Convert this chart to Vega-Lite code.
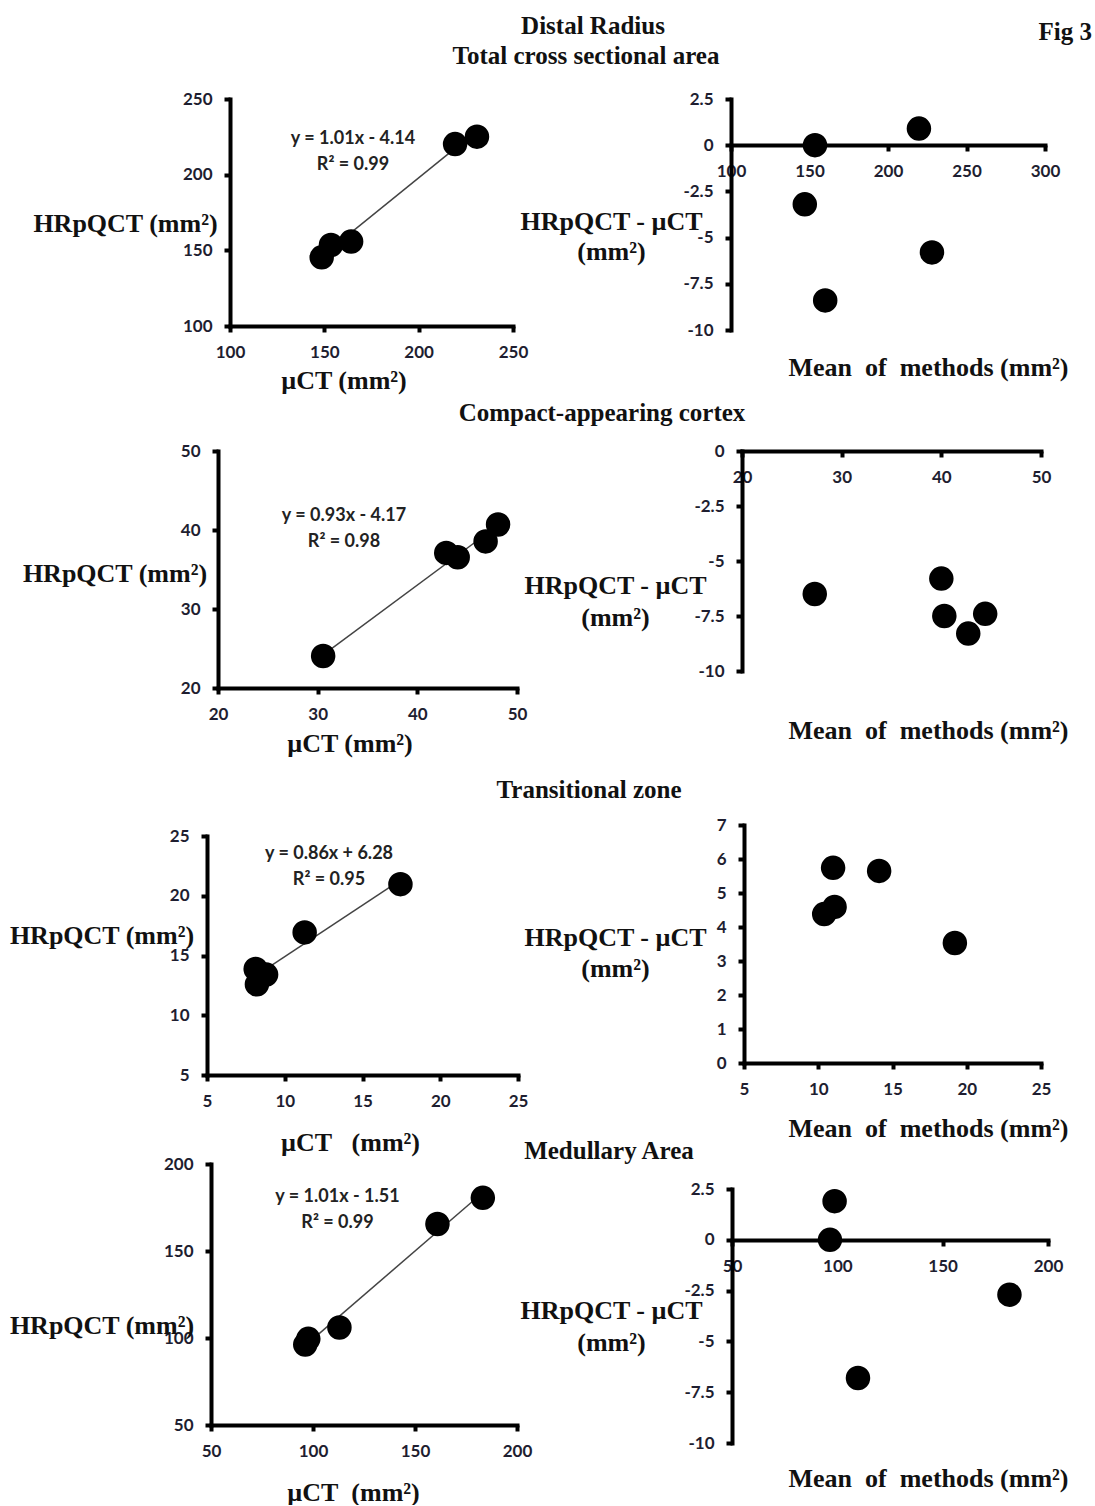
{
"$schema": "https://vega.github.io/schema/vega-lite/v6.json",
"padding": 0,
"autosize": {"type": "pad"},
"background": "white",
"columns": 4,
"spacing": 0,
"align": "each",
"bounds": "flush",
"datasets": {
 "tcsa_points": [{"uCT":148.6,"HRpQCT":145.4},{"uCT":153.5,"HRpQCT":153.5},{"uCT":164.2,"HRpQCT":155.8},{"uCT":219.3,"HRpQCT":220.2},{"uCT":230.9,"HRpQCT":225.1}],
 "tcsa_fit": [{"uCT":148.6,"HRpQCT":146.0},{"uCT":230.9,"HRpQCT":229.1}],
 "tcsa_ba": [{"mean":153.5,"diff":0},{"mean":219.7,"diff":0.9},{"mean":147.0,"diff":-3.2},{"mean":228.0,"diff":-5.8},{"mean":160.0,"diff":-8.4}],
 "cac_points": [{"uCT":30.55,"HRpQCT":24.05},{"uCT":42.9,"HRpQCT":37.1},{"uCT":44.05,"HRpQCT":36.55},{"uCT":46.85,"HRpQCT":38.55},{"uCT":48.1,"HRpQCT":40.7}],
 "cac_fit": [{"uCT":30.55,"HRpQCT":24.2},{"uCT":48.1,"HRpQCT":40.6}],
 "cac_ba": [{"mean":27.3,"diff":-6.5},{"mean":40.0,"diff":-5.8},{"mean":40.3,"diff":-7.5},{"mean":42.7,"diff":-8.3},{"mean":44.4,"diff":-7.4}],
 "tz_points": [{"uCT":8.13,"HRpQCT":13.87},{"uCT":8.21,"HRpQCT":12.59},{"uCT":8.8,"HRpQCT":13.4},{"uCT":11.28,"HRpQCT":16.93},{"uCT":17.44,"HRpQCT":20.97}],
 "tz_fit": [{"uCT":8.13,"HRpQCT":13.3},{"uCT":17.44,"HRpQCT":21.3}],
 "tz_ba": [{"mean":11.0,"diff":5.74},{"mean":10.4,"diff":4.38},{"mean":11.1,"diff":4.59},{"mean":14.1,"diff":5.65},{"mean":19.2,"diff":3.53}],
 "ma_points": [{"uCT":96.2,"HRpQCT":96.2},{"uCT":97.7,"HRpQCT":99.5},{"uCT":112.95,"HRpQCT":106.05},{"uCT":161.0,"HRpQCT":165.5},{"uCT":183.25,"HRpQCT":180.55}],
 "ma_fit": [{"uCT":96.2,"HRpQCT":95.6},{"uCT":183.25,"HRpQCT":183.6}],
 "ma_ba": [{"mean":98.7,"diff":1.9},{"mean":96.5,"diff":0},{"mean":109.8,"diff":-6.8},{"mean":181.7,"diff":-2.7}]
},
"concat": [
 {"width":207,"height":99,"data":{"values":[]},"mark":{"type":"point","opacity":0}},
 {"width":311,"height":14,"data":{"values":[]},"mark":{"type":"point","opacity":0},"title":{"text":"Distal Radius","orient":"bottom","offset":0,"dx":230.5}},
 {"width":213,"height":44,"data":{"values":[]},"mark":{"type":"point","opacity":0},"title":{"text":"Total cross sectional area","orient":"bottom","offset":0,"dx":-38.5}},
 {"width":361,"height":20,"data":{"values":[]},"mark":{"type":"point","opacity":0},"title":{"text":"Fig 3","orient":"bottom","anchor":"end","offset":0}},

 {"width":1,"height":1,"data":{"values":[]},"mark":{"type":"point","opacity":0}},
 {"width":306,"height":227,
  "title":{"text":["y = 1.01x - 4.14","R² = 0.99"],"orient":"top","anchor":"start","align":"center","dx":146,"offset":-84,"font":"Lato","fontSize":18,"fontWeight":"bold","color":"#222","lineHeight":26},
  "encoding":{
   "x":{"field":"uCT","type":"quantitative","scale":{"domain":[100,250],"range":[23,306],"nice":false,"zero":false},"axis":{"values":[100,150,200,250],"title":"µCT (mm²)","titleX":136.5,"titleY":62,"titleAngle":0,"titleAlign":"center","titleBaseline":"alphabetic","labelExpr":"'' + datum.value"}},
   "y":{"field":"HRpQCT","type":"quantitative","scale":{"domain":[100,250],"range":[227,0],"nice":false,"zero":false},"axis":{"values":[100,150,200,250],"offset":-23,"title":"HRpQCT (mm²)","titleX":-105,"titleY":132,"titleAngle":0,"titleAlign":"center","titleBaseline":"alphabetic","labelExpr":"'' + datum.value"}}
  },
  "layer":[
   {"data":{"name":"tcsa_fit"},"mark":{"type":"line","color":"#444","strokeWidth":1.5}},
   {"data":{"name":"tcsa_points"},"mark":{"type":"circle","size":600,"color":"#000","opacity":1}}
  ]},
 {"width":1,"height":1,"data":{"values":[]},"mark":{"type":"point","opacity":0}},
 {"width":314,"height":231,"data":{"name":"tcsa_ba"},"mark":{"type":"circle","size":600,"color":"#000","opacity":1},
  "encoding":{
   "x":{"field":"mean","type":"quantitative","scale":{"domain":[100,300],"range":[0,314],"nice":false,"zero":false},"axis":{"values":[100,150,200,250,300],"offset":-185,"title":"Mean\u00a0\u00a0of\u00a0\u00a0methods (mm²)","titleX":197,"titleY":230,"titleAngle":0,"titleAlign":"center","titleBaseline":"alphabetic","labelExpr":"'' + datum.value"}},
   "y":{"field":"diff","type":"quantitative","scale":{"domain":[-10,2.5],"range":[231,0],"nice":false,"zero":false},"axis":{"values":[-10,-7.5,-5,-2.5,0,2.5],"title":["HRpQCT - µCT","(mm²)"],"titleX":-120,"titleY":130,"titleLineHeight":30,"titleAngle":0,"titleAlign":"center","titleBaseline":"alphabetic","labelExpr":"'' + datum.value"}}
  }},

 {"width":1,"height":121,"data":{"values":[]},"mark":{"type":"point","opacity":0}},
 {"width":1,"height":1,"data":{"values":[]},"mark":{"type":"point","opacity":0}},
 {"width":213,"height":71,"data":{"values":[]},"mark":{"type":"point","opacity":0},"title":{"text":"Compact-appearing cortex","orient":"bottom","offset":0,"dx":-22.5}},
 {"width":1,"height":1,"data":{"values":[]},"mark":{"type":"point","opacity":0}},

 {"width":1,"height":1,"data":{"values":[]},"mark":{"type":"point","opacity":0}},
 {"width":310,"height":237,
  "title":{"text":["y = 0.93x - 4.17","R² = 0.98"],"orient":"top","anchor":"start","align":"center","dx":137,"offset":-108.5,"font":"Lato","fontSize":18,"fontWeight":"bold","color":"#222","lineHeight":26},
  "encoding":{
   "x":{"field":"uCT","type":"quantitative","scale":{"domain":[20,50],"range":[11,310],"nice":false,"zero":false},"axis":{"values":[20,30,40,50],"title":"µCT (mm²)","titleX":142.5,"titleY":63,"titleAngle":0,"titleAlign":"center","titleBaseline":"alphabetic","labelExpr":"'' + datum.value"}},
   "y":{"field":"HRpQCT","type":"quantitative","scale":{"domain":[20,50],"range":[237,0],"nice":false,"zero":false},"axis":{"values":[20,30,40,50],"offset":-11,"title":"HRpQCT (mm²)","titleX":-103.5,"titleY":130,"titleAngle":0,"titleAlign":"center","titleBaseline":"alphabetic","labelExpr":"'' + datum.value"}}
  },
  "layer":[
   {"data":{"name":"cac_fit"},"mark":{"type":"line","color":"#444","strokeWidth":1.5}},
   {"data":{"name":"cac_points"},"mark":{"type":"circle","size":600,"color":"#000","opacity":1}}
  ]},
 {"width":1,"height":1,"data":{"values":[]},"mark":{"type":"point","opacity":0}},
 {"width":310,"height":220,"data":{"name":"cac_ba"},"mark":{"type":"circle","size":600,"color":"#000","opacity":1},
  "encoding":{
   "x":{"field":"mean","type":"quantitative","scale":{"domain":[20,50],"range":[11,310],"nice":false,"zero":false},"axis":{"values":[20,30,40,50],"offset":-220,"title":"Mean\u00a0\u00a0of\u00a0\u00a0methods (mm²)","titleX":197,"titleY":287,"titleAngle":0,"titleAlign":"center","titleBaseline":"alphabetic","labelExpr":"'' + datum.value"}},
   "y":{"field":"diff","type":"quantitative","scale":{"domain":[-10,0],"range":[220,0],"nice":false,"zero":false},"axis":{"values":[-10,-7.5,-5,-2.5,0],"offset":-11,"title":["HRpQCT - µCT","(mm²)"],"titleX":-127,"titleY":142,"titleLineHeight":32,"titleAngle":0,"titleAlign":"center","titleBaseline":"alphabetic","labelExpr":"'' + datum.value"}}
  }},

 {"width":1,"height":137,"data":{"values":[]},"mark":{"type":"point","opacity":0}},
 {"width":1,"height":1,"data":{"values":[]},"mark":{"type":"point","opacity":0}},
 {"width":213,"height":90,"data":{"values":[]},"mark":{"type":"point","opacity":0},"title":{"text":"Transitional zone","orient":"bottom","offset":0,"dx":-35.5}},
 {"width":1,"height":1,"data":{"values":[]},"mark":{"type":"point","opacity":0}},

 {"width":1,"height":1,"data":{"values":[]},"mark":{"type":"point","opacity":0}},
 {"width":311,"height":250,
  "title":{"text":["y = 0.86x + 6.28","R² = 0.95"],"orient":"top","anchor":"start","align":"center","dx":122,"offset":-63.5,"font":"Lato","fontSize":18,"fontWeight":"bold","color":"#222","lineHeight":26},
  "encoding":{
   "x":{"field":"uCT","type":"quantitative","scale":{"domain":[5,25],"range":[0,311],"nice":false,"zero":false},"axis":{"values":[5,10,15,20,25],"title":"µCT\u00a0\u00a0\u00a0(mm²)","titleX":143,"titleY":75,"titleAngle":0,"titleAlign":"center","titleBaseline":"alphabetic","labelExpr":"'' + datum.value"}},
   "y":{"field":"HRpQCT","type":"quantitative","scale":{"domain":[5,25],"range":[250,11],"nice":false,"zero":false},"axis":{"values":[5,10,15,20,25],"title":"HRpQCT (mm²)","titleX":-105.5,"titleY":118,"titleAngle":0,"titleAlign":"center","titleBaseline":"alphabetic","labelExpr":"'' + datum.value"}}
  },
  "layer":[
   {"data":{"name":"tz_fit"},"mark":{"type":"line","color":"#444","strokeWidth":1.5}},
   {"data":{"name":"tz_points"},"mark":{"type":"circle","size":600,"color":"#000","opacity":1}}
  ]},
 {"width":1,"height":1,"data":{"values":[]},"mark":{"type":"point","opacity":0}},
 {"width":310,"height":238,"data":{"name":"tz_ba"},"mark":{"type":"circle","size":600,"color":"#000","opacity":1},
  "encoding":{
   "x":{"field":"mean","type":"quantitative","scale":{"domain":[5,25],"range":[13,310],"nice":false,"zero":false},"axis":{"values":[5,10,15,20,25],"title":"Mean\u00a0\u00a0of\u00a0\u00a0methods (mm²)","titleX":197,"titleY":73,"titleAngle":0,"titleAlign":"center","titleBaseline":"alphabetic","labelExpr":"'' + datum.value"}},
   "y":{"field":"diff","type":"quantitative","scale":{"domain":[0,7],"range":[238,0],"nice":false,"zero":false},"axis":{"values":[0,1,2,3,4,5,6,7],"offset":-13,"title":["HRpQCT - µCT","(mm²)"],"titleX":-129,"titleY":120,"titleLineHeight":31,"titleAngle":0,"titleAlign":"center","titleBaseline":"alphabetic","labelExpr":"'' + datum.value"}}
  }},

 {"width":1,"height":89,"data":{"values":[]},"mark":{"type":"point","opacity":0}},
 {"width":1,"height":1,"data":{"values":[]},"mark":{"type":"point","opacity":0}},
 {"width":213,"height":64,"data":{"values":[]},"mark":{"type":"point","opacity":0},"title":{"text":"Medullary Area","orient":"bottom","offset":0,"dx":-15.5}},
 {"width":1,"height":1,"data":{"values":[]},"mark":{"type":"point","opacity":0}},

 {"width":1,"height":1,"data":{"values":[]},"mark":{"type":"point","opacity":0}},
 {"width":310,"height":261,
  "title":{"text":["y = 1.01x - 1.51","R² = 0.99"],"orient":"top","anchor":"start","align":"center","dx":130.5,"offset":-76.5,"font":"Lato","fontSize":18,"fontWeight":"bold","color":"#222","lineHeight":26},
  "encoding":{
   "x":{"field":"uCT","type":"quantitative","scale":{"domain":[50,200],"range":[4,310],"nice":false,"zero":false},"axis":{"values":[50,100,150,200],"title":"µCT\u00a0\u00a0(mm²)","titleX":146,"titleY":75,"titleAngle":0,"titleAlign":"center","titleBaseline":"alphabetic","labelExpr":"'' + datum.value"}},
   "y":{"field":"HRpQCT","type":"quantitative","scale":{"domain":[50,200],"range":[261,0],"nice":false,"zero":false},"axis":{"values":[50,100,150,200],"offset":-4,"title":"HRpQCT (mm²)","titleX":-109.5,"titleY":169,"titleAngle":0,"titleAlign":"center","titleBaseline":"alphabetic","labelExpr":"'' + datum.value"}}
  },
  "layer":[
   {"data":{"name":"ma_fit"},"mark":{"type":"line","color":"#444","strokeWidth":1.5}},
   {"data":{"name":"ma_points"},"mark":{"type":"circle","size":600,"color":"#000","opacity":1}}
  ]},
 {"width":1,"height":1,"data":{"values":[]},"mark":{"type":"point","opacity":0}},
 {"width":317,"height":279,"data":{"name":"ma_ba"},"mark":{"type":"circle","size":600,"color":"#000","opacity":1},
  "encoding":{
   "x":{"field":"mean","type":"quantitative","scale":{"domain":[50,200],"range":[1,317],"nice":false,"zero":false},"axis":{"values":[50,100,150,200],"offset":-203,"title":"Mean\u00a0\u00a0of\u00a0\u00a0methods (mm²)","titleX":197,"titleY":246,"titleAngle":0,"titleAlign":"center","titleBaseline":"alphabetic","labelExpr":"'' + datum.value"}},
   "y":{"field":"diff","type":"quantitative","scale":{"domain":[-10,2.5],"range":[279,25],"nice":false,"zero":false},"axis":{"values":[-10,-7.5,-5,-2.5,0,2.5],"offset":-1,"title":["HRpQCT - µCT","(mm²)"],"titleX":-121,"titleY":154,"titleLineHeight":32,"titleAngle":0,"titleAlign":"center","titleBaseline":"alphabetic","labelExpr":"'' + datum.value"}}
  }}
],
"config": {
 "view": {"stroke": null},
 "axis": {
  "grid": false,
  "domainColor": "#000",
  "domainWidth": 4,
  "domainCap": "square",
  "tickColor": "#000",
  "tickWidth": 4,
  "tickSize": 6,
  "labelFont": "Lato",
  "labelFontSize": 17,
  "labelFontWeight": "bold",
  "labelColor": "#1e1e30",
  "labelPadding": 12,
  "labelFlush": false,
  "labelOverlap": false,
  "labelBound": false,
  "titleFont": "Liberation Serif",
  "titleFontSize": 26,
  "titleFontWeight": "bold",
  "titleColor": "#111"
 },
 "title": {
  "font": "Liberation Serif",
  "fontSize": 25,
  "fontWeight": "bold",
  "color": "#111",
  "anchor": "middle",
  "frame": "group"
 }
}
}
